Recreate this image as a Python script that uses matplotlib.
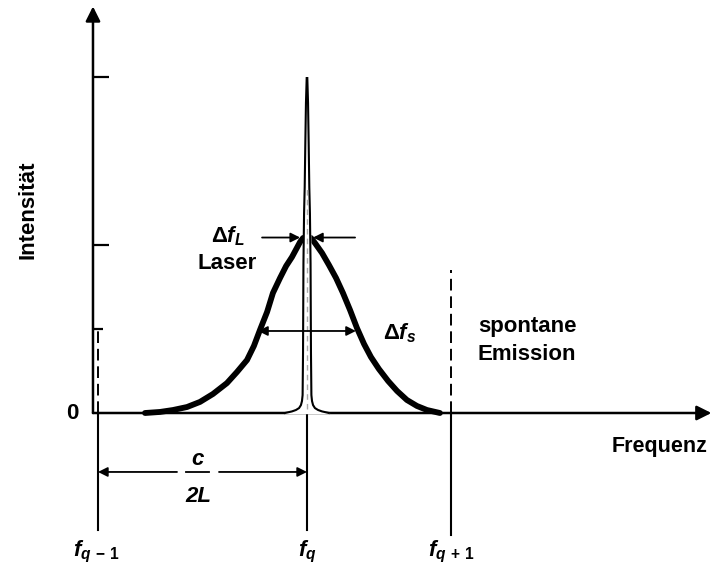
import numpy as np
import matplotlib
matplotlib.use('Agg')
import matplotlib.pyplot as plt

plt.rcParams['font.family'] = ['Liberation Sans', 'DejaVu Sans']
plt.rcParams['font.weight'] = 'bold'
plt.rcParams['mathtext.fontset'] = 'custom'
plt.rcParams['mathtext.rm'] = 'Liberation Sans:bold'
plt.rcParams['mathtext.it'] = 'Liberation Sans:bold:italic'
plt.rcParams['mathtext.bf'] = 'Liberation Sans:bold'

# frequency in units of the mode spacing (f_q-1 = 0, f_q = 1), intensity relative to gain peak
mode_pos = [0.0, 1.0, 1.69]
mode_labels = [r'$f_{q\,-\,1}$', r'$f_q$', r'$f_{q\,+\,1}$']
mode_dash_top = [0.477, None, 0.81]
mode_bottom = [-0.665, -0.665, -0.693]

ytick_levels = [1.91, 0.955, 0.477]
ytick_len = [0.077, 0.077, 0.048]

# spontaneous emission (gain) curve
gain_f = [0.225, 0.297, 0.359, 0.426, 0.488, 0.550, 0.617, 0.665, 0.713, 0.746,
          0.775, 0.809, 0.837, 0.871, 0.900, 0.928, 0.967, 0.981, 1.0,
          1.019, 1.038, 1.072, 1.105, 1.139, 1.172, 1.206, 1.239, 1.273,
          1.306, 1.344, 1.388, 1.431, 1.478, 1.526, 1.574, 1.636]
gain_I = [0.0, 0.006, 0.017, 0.034, 0.063, 0.108, 0.170, 0.233, 0.301, 0.381,
          0.472, 0.574, 0.682, 0.767, 0.835, 0.886, 0.972, 0.994, 1.0,
          0.994, 0.966, 0.909, 0.841, 0.767, 0.682, 0.585, 0.483, 0.392,
          0.318, 0.250, 0.182, 0.125, 0.074, 0.040, 0.017, 0.0]

# laser line: half width (in f) vs. height
laser_I = [0.0, 0.009, 0.017, 0.028, 0.045, 0.068, 0.102, 0.341, 0.852, 1.136, 1.284, 1.534, 1.761, 1.903]
laser_hw = [0.105, 0.072, 0.053, 0.038, 0.029, 0.024, 0.021, 0.019, 0.017, 0.014, 0.011, 0.008, 0.005, 0.0015]

fig = plt.figure(figsize=(7.13, 5.67), dpi=100)
ax = fig.add_axes([0, 0, 1, 1])
ax.set_xlim(-0.4689, 2.9426)
ax.set_ylim(-0.875, 2.3466)
ax.axis('off')

k = 'black'
ax_lw = 1.8

def arrow(tip, tail, lw=1.3, ms=14, style='-|>', z=2):
    ax.annotate('', xy=tip, xytext=tail, annotation_clip=False, zorder=z,
                arrowprops=dict(arrowstyle=style, lw=lw, color=k, mutation_scale=ms,
                                shrinkA=0, shrinkB=0))

# axes with arrow heads
arrow((-0.024, 2.31), (-0.024, 0.0), lw=ax_lw, ms=22)
arrow((2.935, 0.0), (-0.024, 0.0), lw=ax_lw, ms=22)
for lev, ln in zip(ytick_levels, ytick_len):
    ax.plot([-0.024, -0.024 + ln], [lev, lev], color=k, lw=1.6, solid_capstyle='butt')

# mode lines
for x, top, bot in zip(mode_pos, mode_dash_top, mode_bottom):
    ax.plot([x, x], [0, bot], color=k, lw=1.5)
    if top is not None:
        ax.plot([x, x], [0, top], color=k, lw=1.4, dashes=(6, 3))

# gain curve
ax.plot(gain_f, gain_I, color=k, lw=4.2, solid_capstyle='round', solid_joinstyle='round', zorder=3)

# laser line
lx = np.array(laser_hw)
ly = np.array(laser_I)
fq = mode_pos[1]
ax.fill_betweenx(ly, fq - lx, fq + lx, color='white', zorder=4)
ax.plot(fq - lx, ly, color=k, lw=1.5, zorder=5)
ax.plot(fq + lx, ly, color=k, lw=1.5, zorder=5)
ax.plot([fq, fq], [0.02, 1.28], color='#aaaaaa', lw=1.0, dashes=(4, 3), zorder=5)

# Delta f_L arrows
arrow((0.967, 0.997), (0.785, 0.997), z=6)
arrow((1.029, 0.997), (1.230, 0.997), z=6)

# Delta f_s arrow
arrow((0.766, 0.466), (1.234, 0.466), style='<|-|>', z=6)

# c/2L dimension
arrow((0.0, -0.335), (0.378, -0.335))
arrow((1.0, -0.335), (0.579, -0.335))
ax.plot([0.421, 0.531], [-0.335, -0.335], color=k, lw=1.3)
fs = 16
ax.text(0.478, -0.267, 'c', fontsize=fs, style='italic', ha='center', va='center')
ax.text(0.478, -0.477, '2L', fontsize=fs, style='italic', ha='center', va='center')

# labels
ax.text(-0.335, 1.153, 'Intensität', fontsize=fs, rotation=90, ha='center', va='center')
ax.text(-0.124, 0.0, '0', fontsize=fs, ha='center', va='center')
ax.text(2.918, -0.19, 'Frequenz', fontsize=15.5, ha='right', va='center')
ax.text(0.622, 1.006, r'$\Delta f_L$', fontsize=fs, ha='center', va='center')
ax.text(0.617, 0.852, 'Laser', fontsize=fs, ha='center', va='center')
ax.text(1.445, 0.455, r'$\Delta f_s$', fontsize=fs, ha='center', va='center')
ax.text(1.818, 0.494, 'spontane', fontsize=fs, ha='left', va='center')
ax.text(1.818, 0.330, 'Emission', fontsize=fs, ha='left', va='center')
for x, lab in zip(mode_pos, mode_labels):
    ax.text(x - 0.01 if x == 0 else x, -0.79, lab, fontsize=fs, ha='center', va='center')

fig.savefig('out.png', dpi=100)
